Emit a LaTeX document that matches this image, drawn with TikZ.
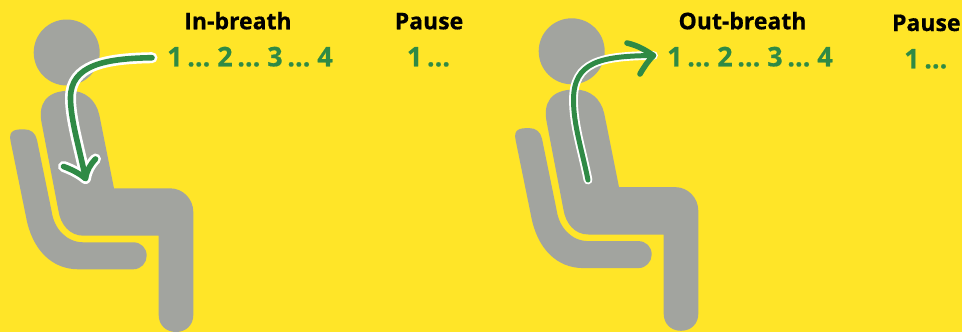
\documentclass[tikz,border=0pt]{standalone}
\usepackage{fontspec}
\setmainfont{Open Sans}[BoldFeatures={FakeBold=0.6}]
\definecolor{bgyel}{HTML}{FFE528}
\definecolor{figgray}{HTML}{A2A49F}
\definecolor{arrgreen}{HTML}{2F8A45}
\newcommand{\tightcount}[1]{{\spaceskip 4.6pt\relax #1}}
\tikzset{
  figure/.style={fill=figgray,draw=none},
  halo/.style={draw=white,line width=11pt,line cap=round,line join=round},
  ink/.style={draw=arrgreen,line width=5.6pt,line cap=round,line join=round},
  headtext/.style={font=\bfseries\fontsize{23}{26}\selectfont,text=black,inner sep=0pt,anchor=base},
  counttext/.style={font=\bfseries\fontsize{27}{30}\selectfont,text=arrgreen,inner sep=0pt,anchor=base},
}
\newcommand{\sitter}{%
  \fill[figure] (66.7,52.5) circle (33);
  \fill[figure] (41.7,123.3) .. controls (38,105) and (45,90.7) .. (70,90.7)
    .. controls (85,90.7) and (96,100) .. (99.3,115) -- (114,188.3) -- (170,188.3)
    .. controls (183,188.3) and (193.3,199) .. (193.3,212) -- (193.3,315)
    .. controls (193.3,325) and (186,332) .. (176,332)
    .. controls (166,332) and (158.7,325) .. (158.7,315) -- (158.7,235.7) -- (83.3,235.7)
    .. controls (70,235.7) and (60.5,225) .. (58.3,210) -- cycle;
  \fill[figure] (10.7,141.7) .. controls (8,130) and (15,129.3) .. (24,129.3)
    .. controls (31,129.3) and (35.5,133) .. (37,140) -- (51.7,211.7)
    .. controls (54,228) and (66,242.3) .. (83.3,242.3) -- (133.3,242.3)
    .. controls (141,242.3) and (146.7,248) .. (146.7,255.7)
    .. controls (146.7,263) and (141,269.3) .. (133.3,269.3) -- (78.3,269.3)
    .. controls (52,269.3) and (32,250) .. (26,216.7) -- cycle;
}
\begin{document}
\begin{tikzpicture}[x=1pt,y=-1pt]
\useasboundingbox (0,0) rectangle (962,332);
\fill[bgyel] (0,0) rectangle (962,332);
\sitter
\begin{scope}[xshift=505pt,yshift=1.2pt]
\sitter
\end{scope}
% labels
\node[headtext] (inb) at (238,29.3) {In-breath};
\node[headtext] (pa) at (429,29.3) {Pause};
\node[headtext] (outb) at (742.5,29.3) {Out-breath};
\node[headtext] (pb) at (926.3,31) {Pause};
\node[counttext] (ca) at (250,66.3) {\tightcount{1 ... 2 ... 3 ... 4}};
\node[counttext] (cb) at (428.5,66.3) {\tightcount{1 ...}};
\node[counttext] (cc) at (750,66.3) {\tightcount{1 ... 2 ... 3 ... 4}};
\node[counttext] (cd) at (925.8,68.3) {\tightcount{1 ...}};
% arrow coordinates
\coordinate (a0) at (152,57.7);
\coordinate (a1) at (85.5,178.5);
\coordinate (ah1) at (63.5,166.5);
\coordinate (ah2) at (95.5,159);
\coordinate (b0) at (588,180);
\coordinate (b1) at (653.5,55.5);
\coordinate (bh1) at (627,43);
\coordinate (bh2) at (640,74);
% arrows
\draw[halo] (a0) .. controls (105,58.5) and (70.5,65) .. (70.5,98) .. controls (70.5,120) and (80,150) .. (a1);
\draw[halo] (ah1) .. controls (73,170) and (80,174) .. (a1) .. controls (87,170) and (90,165) .. (ah2);
\draw[ink] (a0) .. controls (105,58.5) and (70.5,65) .. (70.5,98) .. controls (70.5,120) and (80,150) .. (a1);
\draw[ink] (ah1) .. controls (73,170) and (80,174) .. (a1) .. controls (87,170) and (90,165) .. (ah2);
\draw[halo,line width=8.8pt] (b0) .. controls (582,150) and (573.5,125) .. (573.5,100) .. controls (573.5,62) and (600,56) .. (b1);
\draw[ink,line width=5pt] (b0) .. controls (582,150) and (573.5,125) .. (573.5,100) .. controls (573.5,62) and (600,56) .. (b1);
\draw[ink] (bh1) .. controls (640,46) and (648,52) .. (b1) .. controls (648,61) and (644,67) .. (bh2);
\end{tikzpicture}
\end{document}
